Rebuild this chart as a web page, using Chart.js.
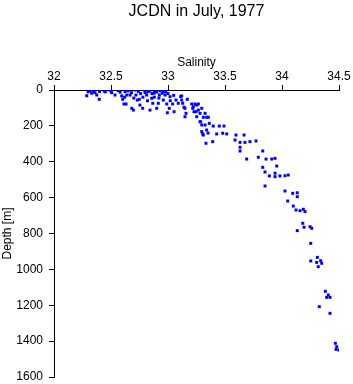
<!DOCTYPE html>
<html><head><meta charset="utf-8">
<script src="https://cdn.jsdelivr.net/npm/chart.js@4"></script>
<style>html,body{margin:0;padding:0;background:#fff}</style>
</head><body>
<canvas id="c" width="353" height="384"></canvas>
<script>
const titleText = 'JCDN in July, 1977';
const xAxisTitle = 'Salinity';
const yAxisTitle = 'Depth [m]';
const xTickValues = [32, 32.5, 33, 33.5, 34, 34.5];
const xTickLabels = ['32', '32.5', '33', '33.5', '34', '34.5'];
const yTickValues = [0, 200, 400, 600, 800, 1000, 1200, 1400, 1600];
const yTickLabels = ['0', '200', '400', '600', '800', '1000', '1200', '1400', '1600'];

const salinity = [
  32.287,32.316,32.331,32.345,32.375,32.397,32.441,32.485,32.506,32.535,32.564,32.594,32.603,32.614,32.632,32.623,32.638,32.667,32.682,32.696,
  32.711,32.719,32.731,32.748,32.754,32.778,32.798,32.813,32.827,32.842,32.857,32.866,32.877,32.901,32.915,32.924,32.959,32.959,32.974,32.989,
  32.994,33.011,33.018,33.041,33.053,33.070,33.090,33.111,33.120,33.149,33.158,33.149,33.169,33.208,33.217,33.228,33.252,33.266,33.252,33.281,
  33.296,33.310,33.325,33.339,33.281,33.296,33.325,33.296,33.310,33.339,33.333,33.351,
  32.45,32.50,32.58,32.65,32.68,32.74,32.76,32.80,32.84,32.86,32.88,32.90,32.93,32.95,32.98,33.00,32.62,32.70,32.78,32.88,32.82,32.92,33.05,33.02,32.36,32.40,32.30,
  33.120,33.129,33.140,33.222,33.237,33.266,33.246,33.287,33.354,33.362,33.397,33.450,33.491,33.304,33.427,33.480,33.515,33.392,
  33.596,33.667,33.588,33.632,33.675,33.719,33.772,33.632,33.632,33.831,33.690,33.792,33.860,33.910,33.939,33.831,33.954,33.851,33.889,33.939,
  33.939,33.982,34.026,34.055,33.851,34.026,34.094,34.134,34.134,
  34.050,34.099,34.123,34.158,34.187,34.202,34.182,34.193,34.246,34.261,34.134,34.252,34.310,34.304,34.339,34.348,34.252,34.318,
  34.380,34.406,34.392,34.421,34.327,34.421,34.468,34.480,34.474,34.500
];
const depth = [
  32,4,18,9,28,52,6,0,15,28,4,33,52,78,78,9,28,28,102,112,
  0,28,56,52,84,102,9,28,9,112,46,74,18,102,74,28,9,56,28,78,
  127,102,37,78,121,56,74,37,56,102,130,149,52,78,102,121,84,112,149,130,
  102,152,130,152,177,195,195,232,251,223,297,240,
  10,5,12,5,15,8,20,15,5,20,8,12,5,18,10,20,40,45,40,40,60,45,30,60,15,8,10,
  33,74,96,93,78,78,121,177,152,186,201,201,201,245,245,241,245,288,
  251,251,279,292,292,288,284,319,340,340,385,375,385,385,381,431,424,457,479,464,
  483,479,478,474,535,563,576,573,595,
  619,647,669,673,665,678,743,765,762,771,784,855,933,961,952,966,953,985,
  1122,1143,1156,1156,1208,1245,1412,1431,1446,1450
];

const FONT = '"Liberation Sans", Arial, Helvetica, sans-serif';

const centerTitle = {
  id: 'centerTitle',
  afterLayout(chart) {
    const t = chart.titleBlock;
    if (t) { t.left = chart.chartArea.left; t.right = chart.chartArea.right; }
  }
};

new Chart(document.getElementById('c'), {
  type: 'scatter',
  data: {
    datasets: [{
      data: salinity.map((s, i) => ({ x: s, y: depth[i] })),
      pointStyle: 'rect',
      pointRadius: 2.1,
      pointBorderWidth: 0,
      borderWidth: 0,
      backgroundColor: '#0000ff',
      pointBackgroundColor: '#0000ff'
    }]
  },
  plugins: [centerTitle],
  options: {
    responsive: false,
    animation: false,
    devicePixelRatio: 1,
    layout: { padding: { left: 0, right: 14, top: 0, bottom: 7 } },
    plugins: {
      legend: { display: false },
      tooltip: { enabled: false },
      title: {
        display: true,
        text: titleText,
        color: '#000',
        font: { family: FONT, size: 16, weight: 'normal', lineHeight: 1.25 },
        padding: { top: 2, bottom: 0 }
      }
    },
    scales: {
      x: {
        type: 'linear',
        position: 'top',
        min: 32, max: 34.5,
        afterBuildTicks: (s) => { s.ticks = xTickValues.map(v => ({ value: v })); },
        afterFit: (s) => { s.height = 68; s.paddingLeft = 0; s.paddingRight = 0; },
        ticks: {
          color: '#000',
          font: { family: FONT, size: 12 },
          padding: 1,
          maxRotation: 0,
          autoSkip: false,
          callback: (v, i) => xTickLabels[i]
        },
        grid: { drawOnChartArea: false, drawTicks: true, tickLength: 5, color: '#000', lineWidth: 1 },
        border: { display: true, color: '#000', width: 1 },
        title: {
          display: true, text: xAxisTitle, color: '#000',
          font: { family: FONT, size: 12 },
          padding: { top: 33, bottom: 0 }
        }
      },
      y: {
        type: 'linear',
        reverse: true,
        min: 0, max: 1600,
        afterBuildTicks: (s) => { s.ticks = yTickValues.map(v => ({ value: v })); },
        afterFit: (s) => { s.width = 54; s.paddingTop = 0; s.paddingBottom = 0; },
        ticks: {
          color: '#000',
          font: { family: FONT, size: 12 },
          padding: 6,
          autoSkip: false,
          callback: (v, i) => yTickLabels[i]
        },
        grid: { drawOnChartArea: false, drawTicks: true, tickLength: 5, color: '#000', lineWidth: 1 },
        border: { display: true, color: '#000', width: 1 },
        title: {
          display: true, text: yAxisTitle, color: '#000',
          font: { family: FONT, size: 12 },
          padding: { top: 0, bottom: 0 }
        }
      }
    }
  }
});
</script>
</body></html>
